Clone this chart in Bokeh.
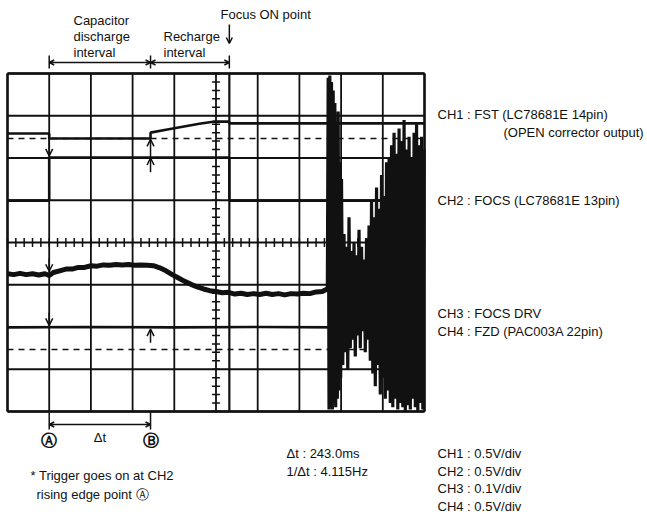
import numpy as np
from bokeh.plotting import figure
from bokeh.models import Range1d, Arrow, OpenHead, Label
from bokeh.embed import file_html
from bokeh.resources import INLINE

# ---------------- data (time in ms, levels in screen divisions) ----------------
T_START, T_END = -100, 900          # 100 ms/div, 10 divisions
N_YDIV = 8
t_A, t_B = 0.0, 243.0               # cursor points A and B
t_focus = 432.0                     # Focus ON point

ch1_t = [-100, 0, 0, 243, 243, 280, 320, 360, 393, 432, 432, 900]
ch1_y = [6.58, 6.58, 6.46, 6.46, 6.60, 6.67, 6.74, 6.81, 6.86, 6.86, 6.82, 6.82]
ch1_ref = 6.46

ch2_t = [-100, 0, 0, 432, 432, 900]
ch2_y = [4.99, 4.99, 6.01, 6.01, 4.99, 4.99]

ch3_t = [-100, -85, -70, -55, -40, -25, -10, 0, 10, 25, 40, 55, 70, 85, 100,
         115, 130, 145, 160, 175, 190, 205, 220, 235, 250, 265, 280, 295, 310,
         325, 340, 355, 370, 385, 400, 415, 430, 445, 460, 475, 490, 505, 520,
         535, 550, 565, 580, 595, 610, 625, 640, 655, 667]
ch3_y = [3.26, 3.24, 3.27, 3.24, 3.26, 3.23, 3.26, 3.22, 3.29, 3.33, 3.37, 3.37,
         3.41, 3.41, 3.45, 3.44, 3.47, 3.46, 3.48, 3.47, 3.48, 3.46, 3.47, 3.46,
         3.45, 3.40, 3.33, 3.24, 3.16, 3.08, 3.01, 2.95, 2.90, 2.86, 2.84, 2.81,
         2.82, 2.78, 2.80, 2.77, 2.79, 2.77, 2.80, 2.77, 2.79, 2.76, 2.79, 2.78,
         2.80, 2.79, 2.83, 2.84, 2.90]

burst_t = [667, 669, 671, 673, 675, 677, 679, 681, 683, 685, 687, 689, 691, 693,
           695, 697, 699,
           701, 704, 707, 710, 713, 716, 719, 722, 725, 728, 731, 734, 737, 740,
           743, 746, 749, 752, 755, 758, 761, 764, 767, 770,
           773, 776, 779, 782, 785, 788, 791, 794, 797, 800, 803, 806, 809, 812,
           815, 818,
           821, 824, 827, 830, 833, 836, 839, 842, 845, 848, 851, 854, 857, 860,
           863, 866, 869, 872, 875, 878, 881, 884, 887, 890, 893, 896, 899]
burst_y = [2.90, 7.90, 0.05, 7.95, 0.10, 7.80, 0.05, 7.60, 0.20, 7.30, 0.10, 6.80,
           0.30, 7.10, 0.50, 5.90, 0.80,
           5.50, 1.10, 4.20, 1.40, 3.90, 1.00, 4.60, 1.50, 3.80, 1.70, 4.00, 1.30,
           3.70, 1.80, 4.30, 1.50, 3.90, 1.90, 3.60, 1.40, 4.10, 1.70, 4.40, 1.20,
           5.00, 0.90, 4.60, 0.60, 5.30, 1.10, 4.80, 0.40, 5.60, 0.80, 5.10, 0.30,
           5.90, 0.50, 6.00, 0.20,
           6.30, 0.10, 6.60, 0.30, 6.10, 0.05, 6.70, 0.20, 6.40, 0.10, 6.90, 0.00,
           6.20, 0.15, 6.50, 0.05, 6.00, 0.30, 6.60, 0.10, 6.80, 0.00, 6.30, 0.20,
           6.50, 0.05, 6.20]

ch4_t = [-100, 100, 300, 500, 700, 900]
ch4_y = [1.99, 2.00, 1.99, 2.00, 1.99, 2.00]
ch4_ref = 1.47

right_labels = ["CH1 : FST (LC78681E 14pin)", "(OPEN corrector output)",
                "CH2 : FOCS (LC78681E 13pin)", "CH3 : FOCS DRV",
                "CH4 : FZD (PAC003A 22pin)"]
scale_labels = ["CH1 : 0.5V/div", "CH2 : 0.5V/div", "CH3 : 0.1V/div", "CH4 : 0.5V/div"]
delta_labels = ["\u0394t : 243.0ms", "1/\u0394t : 4.115Hz"]

# ---------------- figure ----------------
W, H = 647, 514
PX_PER_MS = 0.417
PX_PER_DIV = 42.25
x0 = T_START - 7.0 / PX_PER_MS
x1 = x0 + W / PX_PER_MS
y1 = N_YDIV + 73.0 / PX_PER_DIV
y0 = y1 - H / PX_PER_DIV

INK = "#111111"
FONT = "Liberation Sans"
FS = "13px"

p = figure(width=W, height=H, x_range=Range1d(x0, x1), y_range=Range1d(y0, y1),
           output_backend="svg", toolbar_location=None,
           x_axis_location=None, y_axis_location=None, min_border=0)
p.grid.visible = False
p.outline_line_color = None
p.background_fill_color = "white"
p.border_fill_color = "white"


def px(xp):
    return x0 + xp / PX_PER_MS


def py(yp):
    return y1 - yp / PX_PER_DIV


# graticule
gx = np.arange(T_START, T_END + 1, 100)
gy = np.arange(0, N_YDIV + 1)
p.segment(x0=gx, y0=0, x1=gx, y1=N_YDIV, line_color=INK, line_width=1.8)
p.segment(x0=T_START, y0=gy, x1=T_END, y1=gy, line_color=INK, line_width=1.8)
p.segment(x0=[T_START, T_END, T_START, T_START], y0=[0, 0, 0, N_YDIV],
          x1=[T_START, T_END, T_END, T_END], y1=[N_YDIV, N_YDIV, 0, N_YDIV],
          line_color=INK, line_width=2.4)

# centre axes with minor ticks
t_mid = (T_START + T_END) / 2
y_mid = N_YDIV / 2
ty = np.arange(0, N_YDIV + 0.001, 0.2)
hx = 4.0 / PX_PER_MS
p.segment(x0=t_mid - hx, y0=ty, x1=t_mid + hx, y1=ty, line_color=INK, line_width=1.5)
tx = np.arange(T_START, T_END + 0.1, 20)
hy = 4.5 / PX_PER_DIV
p.segment(x0=tx, y0=y_mid - hy, x1=tx, y1=y_mid + hy, line_color=INK, line_width=1.5)

# ground reference (dashed)
p.line([T_START, T_END], [ch1_ref, ch1_ref], line_color=INK, line_width=1.5, line_dash="6 5")
p.line([T_START, T_END], [ch4_ref, ch4_ref], line_color=INK, line_width=1.5, line_dash="6 5")

# focus-on marker
p.line([t_focus, t_focus], [0, N_YDIV], line_color=INK, line_width=2.2)

# traces
p.line(ch1_t, ch1_y, line_color=INK, line_width=2.6)
p.line(ch2_t, ch2_y, line_color=INK, line_width=2.6)
p.line(ch3_t, ch3_y, line_color=INK, line_width=5.0, line_join="round")
p.line(burst_t, burst_y, line_color=INK, line_width=3.2)
p.line(ch4_t, ch4_y, line_color=INK, line_width=2.6)


def arrow(xa, ya, xb, yb, both=False, size=7):
    kw = dict(end=OpenHead(size=size, line_width=1.5, line_color=INK),
              x_start=xa, y_start=ya, x_end=xb, y_end=yb,
              line_color=INK, line_width=1.5)
    if both:
        kw["start"] = OpenHead(size=size, line_width=1.5, line_color=INK)
    p.add_layout(Arrow(**kw))


# cursor arrows on traces
arrow(t_A, 6.58, t_A, 6.05)
arrow(t_A, 3.62, t_A, 3.32)
arrow(t_A, 2.34, t_A, 2.04)
arrow(t_B, 5.66, t_B, 6.00)
arrow(t_B, 6.01, t_B, 6.44)
arrow(t_B, 1.63, t_B, 1.95)

# top brackets
yb_top = py(62)
p.segment(x0=[t_A, t_B, t_focus], y0=py(55), x1=[t_A, t_B, t_focus], y1=py(68),
          line_color=INK, line_width=1.5)
arrow(t_A, yb_top, t_B, yb_top, both=True, size=5)
arrow(t_B, yb_top, t_focus, yb_top, both=True, size=5)
arrow(t_focus, py(24), t_focus, py(43), size=6)

# bottom bracket
yb_bot = py(424)
p.segment(x0=[t_A, t_B], y0=py(412), x1=[t_A, t_B], y1=py(429),
          line_color=INK, line_width=1.5)
arrow(t_A, yb_bot, t_B, yb_bot, both=True, size=5)


def label(xp, yp, text, align="left", size=FS, style="normal", font=FONT):
    p.add_layout(Label(x=xp, y=yp, text=text, text_font=font, text_font_size=size,
                       text_font_style=style, text_color=INK, text_align=align,
                       text_baseline="middle"))


label(px(73), py(20), "Capacitor")
label(px(73), py(36), "discharge")
label(px(73), py(52), "interval")
label(px(163), py(36), "Recharge")
label(px(163), py(52), "interval")
label(px(220), py(14), "Focus ON point")

label(t_A, py(440), "\u24b6", align="center", size="16px", style="bold", font="DejaVu Sans")
label((t_A + t_B) / 2, py(437), "\u0394t", align="center")
label(t_B, py(440), "\u24b7", align="center", size="16px", style="bold", font="DejaVu Sans")

label(px(437), py(114), right_labels[0])
label(px(503), py(132), right_labels[1])
label(px(437), py(200), right_labels[2])
label(px(437), py(313), right_labels[3])
label(px(437), py(331), right_labels[4])

label(px(286), py(453), delta_labels[0])
label(px(286), py(471), delta_labels[1])
for i, s in enumerate(scale_labels):
    label(px(437), py(453 + 17.7 * i), s)

label(px(30), py(475), "* Trigger goes on at CH2")
label(px(36), py(494), "rising edge point \u24b6")

open("out.html", "w").write(file_html(p, INLINE))
